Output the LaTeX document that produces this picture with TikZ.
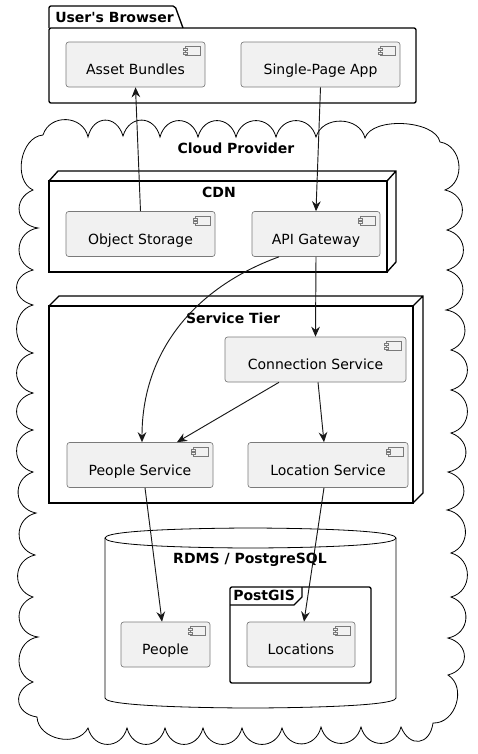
\documentclass[tikz,border=0pt]{standalone}
\usepackage{fontspec}
\setmainfont{DejaVu Sans}
\usetikzlibrary{arrows.meta}
\definecolor{compfill}{HTML}{F1F1F1}
\definecolor{compline}{HTML}{7A7A7A}
\definecolor{arrline}{HTML}{181818}
\tikzset{
  comp/.style={rectangle, draw=compline, fill=compfill, line width=0.5pt, rounded corners=2pt,
    minimum height=33.75pt, inner sep=0pt, text height=15.5pt, text depth=0pt,
    font=\fontsize{10.5pt}{12pt}\selectfont},
  title/.style={anchor=base, inner sep=0pt, font=\fontsize{10.5pt}{12pt}\selectfont\bfseries},
  box/.style={draw=black, line width=1pt},
  arr/.style={draw=arrline, line width=0.7pt, -{Stealth[length=7.5pt, width=6.5pt, inset=2.5pt]}}
}
\begin{document}
\begin{tikzpicture}[x=0.75pt, y=-0.75pt]
  \useasboundingbox (0,0) rectangle (478,754);
  \draw[line width=0.6pt, fill=white] (43,135)
    foreach \x/\y in {88/137, 123/136, 160/137, 198/137, 236/137, 276/137, 316/137, 365/138, 440/142,
      445/190, 447/230, 447/270, 446/310, 451/350, 451/390, 451/433, 448/472, 447/510, 451/553,
      451/597, 448/638, 448/675, 433/723, 401/727, 361/727, 321/727, 282/728, 242/728, 203/728,
      165/728, 127/728, 88/728, 37/717, 33/682, 38/637, 33/597, 35/555, 36/513, 33/472, 33/430,
      33/393, 33/353, 33/305, 33/270, 38/228, 33/190, 43/135}
    { to[bend left=75, distance=17pt] (\x,\y) };
  \draw[box, rounded corners=1.5pt] (49,28) -- (49,6) -- (175,6) -- (183,28);
  \draw[box, rounded corners=1.5pt] (49,28) rectangle (416,103);
  \draw[box] (49,181) rectangle (387,272);
  \draw[box] (49,181) -- (58,171) -- (396,171) -- (396,262) -- (387,272) (387,181) -- (396,171);
  \draw[box] (49,306) rectangle (413,503);
  \draw[box] (49,306) -- (59,296) -- (423,296) -- (423,493) -- (413,503) (413,306) -- (423,296);
  \draw[line width=0.6pt] (105,538) .. controls (105,528) and (250.5,528) .. (250.5,528)
    .. controls (250.5,528) and (396,528) .. (396,538) -- (396,698)
    .. controls (396,708) and (250.5,708) .. (250.5,708)
    .. controls (250.5,708) and (105,708) .. (105,698) -- cycle;
  \draw[line width=0.6pt] (105,538) .. controls (105,548) and (250.5,548) .. (250.5,548)
    .. controls (250.5,548) and (396,548) .. (396,538);
  \draw[box, rounded corners=1.5pt] (230,587) rectangle (371,683);
  \draw[box] (230,605) -- (294,605) -- (302,597) -- (302,587);
  \node[title, anchor=base west] (browser) at (55,22) {User\textquotesingle s Browser};
  \node[title] (cloud) at (236,153) {Cloud Provider};
  \node[title] (cdn) at (219,197) {CDN};
  \node[title] (tier) at (233,323) {Service Tier};
  \node[title] (rdms) at (250,563) {RDMS / PostgreSQL};
  \node[title, anchor=base west] (postgis) at (233,600) {PostGIS};
  \node[comp, minimum width=104.25pt] (assets) at (135.5,64.5) {Asset Bundles};
  \node[comp, minimum width=119.25pt] (spa) at (320.5,64.5) {Single-Page App};
  \node[comp, minimum width=111.75pt] (osto) at (140.5,234) {Object Storage};
  \node[comp, minimum width=96pt] (api) at (316,234) {API Gateway};
  \node[comp, minimum width=135.75pt] (consvc) at (315.5,359.5) {Connection Service};
  \node[comp, minimum width=109.5pt] (psvc) at (140,465) {People Service};
  \node[comp, minimum width=120pt] (locsvc) at (328,465) {Location Service};
  \node[comp, minimum width=66.75pt] (people) at (165.5,644.5) {People};
  \node[comp, minimum width=81pt] (locs) at (301,644.5) {Locations};
  \foreach \n in {assets,spa,osto,api,consvc,psvc,locsvc,people,locs} {
    \begin{scope}[shift={(\n.north east)}, draw=compline, fill=compfill, line width=0.4pt]
      \filldraw (-20,5) rectangle (-5,14);
      \filldraw (-22,7) rectangle (-18,9);
      \filldraw (-22,10.5) rectangle (-18,12.5);
    \end{scope}
  }
  \foreach \from/\to in {osto.north/assets.south, spa.south/api.north, api.south/consvc.north}
    \draw[arr] (\from) -- (\to);
  \draw[arr] ([xshift=-27.75pt]api.south) to[out=-160, in=90] ([xshift=1.5pt]psvc.north);
  \draw[arr] ([xshift=-27.4pt]consvc.south) -- ([xshift=27.75pt]psvc.north);
  \draw[arr] ([xshift=1.9pt]consvc.south) -- ([xshift=-3pt]locsvc.north);
  \draw[arr] ([xshift=3.75pt]psvc.south) -- ([xshift=-2.6pt]people.north);
  \draw[arr] ([xshift=-3pt]locsvc.south) -- ([xshift=2.25pt]locs.north);
\end{tikzpicture}
\end{document}
